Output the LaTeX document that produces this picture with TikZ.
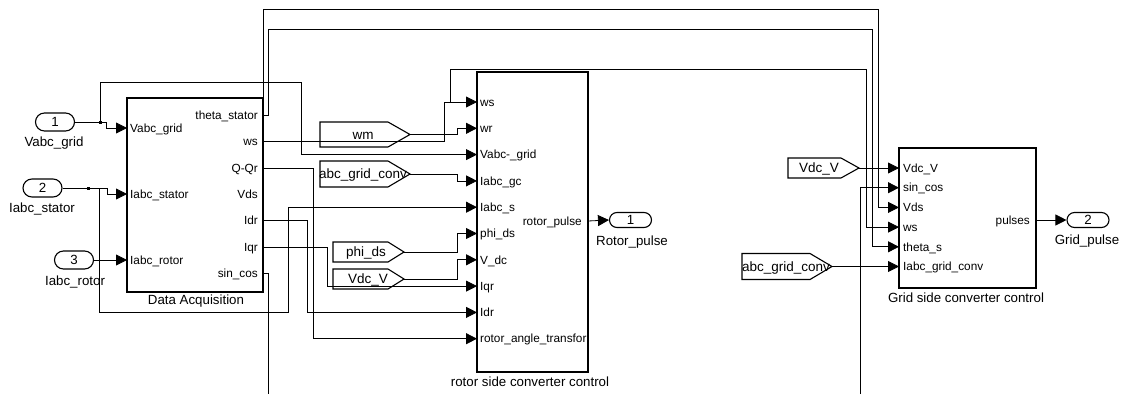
\documentclass[tikz,border=0pt]{standalone}
\usepackage{fontspec}
\setmainfont{Liberation Sans}
\usetikzlibrary{arrows.meta,shapes.misc,calc}
\tikzset{
 blk/.style={draw, line width=1.1pt, inner sep=0pt, outer sep=0pt, rectangle},
 blkline/.style={line width=1.1pt},
 wire/.style={line width=0.8pt},
 arr/.style={wire, -{Triangle[length=11pt,width=11pt]}},
 plbl/.style={inner sep=0pt, text height=8.5pt, text depth=0pt, font=\fontsize{11.8}{12}\selectfont},
 blbl/.style={inner sep=0pt, text height=9.5pt, text depth=0pt, font=\fontsize{13.3}{14}\selectfont},
 inport/.style={draw, rounded rectangle, line width=1.1pt, minimum width=39pt, minimum height=18pt, inner sep=0pt, text height=9.5pt, text depth=0pt, font=\fontsize{13.3}{14}\selectfont},
 outport/.style={inport, minimum width=42pt, minimum height=15pt},
 gotxt/.style={inner sep=0pt, text height=9.5pt, text depth=0pt, font=\fontsize{13.5}{14}\selectfont},
 jdot/.style={fill, rectangle, minimum size=3pt, inner sep=0pt}
}
\newcommand\gotoblk[8]{%
 \draw[blkline] (#2,#5-#6) -- (#3,#5-#6) -- (#4,#5) -- (#3,#5+#6) -- (#2,#5+#6) -- cycle;
 \node[gotxt] (#1) at (#7,#5) {#8};
 \coordinate (#1-out) at (#4,#5);}
\begin{document}
\begin{tikzpicture}[x=1pt,y=-1pt]
\useasboundingbox (0,0) rectangle (1122,394);
% main blocks
\node[blk, minimum width=136pt, minimum height=194pt] (da) at (195,195) {};
\node[blk, minimum width=111pt, minimum height=300pt] (rs) at (532.5,222) {};
\node[blk, minimum width=137pt, minimum height=140pt] (gs) at (967.5,218) {};
\node[blbl] (da-name) at (196,300) {Data Acquisition};
\node[blbl] (rs-name) at (530,382) {rotor side converter control};
\node[blbl] (gs-name) at (966,298) {Grid side converter control};
% Data Acquisition ports
\foreach \n/\y/\t in {theta/115/theta\_stator, ws/141/ws, qqr/168/Q-Qr, vds/194/Vds, idr/220/Idr, iqr/247/Iqr, sincos/273/sin\_cos}{
  \coordinate (da-\n) at (263,\y);
  \node[plbl, anchor=east] (da-\n-l) at (258,\y) {\t};}
\foreach \n/\y/\t in {vabc/128/Vabc\_grid, iabcs/194/Iabc\_stator, iabcr/260/Iabc\_rotor}{
  \coordinate (da-\n) at (127,\y);
  \node[plbl, anchor=west] (da-\n-l) at (130,\y) {\t};}
% rotor side ports
\foreach \n/\y/\t in {ws/102/ws, wr/128.3/wr, vabc/154.6/Vabc-\_grid, iabcgc/180.9/Iabc\_gc, iabcs/207.2/Iabc\_s, phids/233.5/phi\_ds, vdc/259.8/V\_dc, iqr/286.1/Iqr, idr/312.4/Idr, rat/338.7/rotor\_angle\_transfor}{
  \coordinate (rs-\n) at (477,\y);
  \node[plbl, anchor=west] (rs-\n-l) at (480,\y) {\t};}
\coordinate (rs-pulse) at (588,221);
\node[plbl, anchor=east] (rs-pulse-l) at (582,221) {rotor\_pulse};
% grid side ports
\foreach \n/\y/\t in {vdc/168/Vdc\_V, sincos/187.7/sin\_cos, vds/207.4/Vds, ws/227.1/ws, theta/246.8/theta\_s, iabc/266.5/Iabc\_grid\_conv}{
  \coordinate (gs-\n) at (899,\y);
  \node[plbl, anchor=west] (gs-\n-l) at (903,\y) {\t};}
\coordinate (gs-pulses) at (1036,220);
\node[plbl, anchor=east] (gs-pulses-l) at (1030,220) {pulses};
% in/out ports
\node[inport] (in1) at (55,122) {1};
\node[blbl] (in1-name) at (54,142) {Vabc\_grid};
\node[inport] (in2) at (42.5,188) {2};
\node[blbl] (in2-name) at (42,208) {Iabc\_stator};
\node[inport] (in3) at (74,260) {3};
\node[blbl] (in3-name) at (75,281) {Iabc\_rotor};
\node[outport] (out1) at (630.5,220) {1};
\node[blbl] (out1-name) at (632,241) {Rotor\_pulse};
\node[outport] (out2) at (1088,220) {2};
\node[blbl] (out2-name) at (1087,240) {Grid\_pulse};
% goto / from blocks
\gotoblk{wm}{320}{388}{410}{134.5}{12.5}{363}{wm}
\gotoblk{agc1}{320}{388}{410}{174}{13}{363}{abc\_grid\_conv}
\gotoblk{phi}{333}{388}{404}{252}{10}{366}{phi\_ds}
\gotoblk{vdc1}{333}{388}{404}{279}{10}{368}{Vdc\_V}
\gotoblk{vdc2}{788}{841}{859}{168}{10}{819}{Vdc\_V}
\gotoblk{agc2}{742}{810}{832}{266.5}{13}{786}{abc\_grid\_conv}
% junctions and free ends
\coordinate (j1) at (100,122);
\coordinate (j2) at (99,188);
\coordinate (j3) at (450,102);
\coordinate (bot1) at (268,394);
\coordinate (bot2) at (860,394);
\node[jdot] (jd1) at (100,122) {};
\node[jdot] (jd2) at (88,188) {};
% wires
\draw[arr] (in1.east) -| (106,128) -- (da-vabc);
\draw[arr] (j1) |- (301,82) -- (301,154.6) -- (rs-vabc);
\draw[arr] (in2.east) -| (107,194) -- (da-iabcs);
\draw[arr] (j2) |- (288,312.4) -- (288,207.2) -- (rs-iabcs);
\draw[arr] (in3.east) -- (da-iabcr);
\draw[arr] (da-theta) -- (268,115) |- (872,29) -- (872,246.8) -- (gs-theta);
\draw[arr] (da-ws) -| (444,102) -- (rs-ws);
\draw[arr] (j3) |- (866,69) -- (866,227.1) -- (gs-ws);
\draw[arr] (da-qqr) -| (313,338.7) -- (rs-rat);
\draw[arr] (da-vds) -- (263,9) -| (878,207.4) -- (gs-vds);
\draw[arr] (da-idr) -| (307,312.4) -- (rs-idr);
\draw[arr] (da-iqr) -| (327,286.1) -- (rs-iqr);
\draw[wire] (da-sincos) -| (bot1);
\draw[arr] (wm-out) -| (457,128.3) -- (rs-wr);
\draw[arr] (agc1-out) -| (457,180.9) -- (rs-iabcgc);
\draw[arr] (phi-out) -| (457,233.5) -- (rs-phids);
\draw[arr] (vdc1-out) -| (457,259.8) -- (rs-vdc);
\draw[arr] (rs-pulse) -- (out1.west);
\draw[arr] (vdc2-out) -- (gs-vdc);
\draw[arr] (bot2) |- (gs-sincos);
\draw[arr] (agc2-out) -- (gs-iabc);
\draw[arr] (gs-pulses) -- (out2.west);
\end{tikzpicture}
\end{document}
